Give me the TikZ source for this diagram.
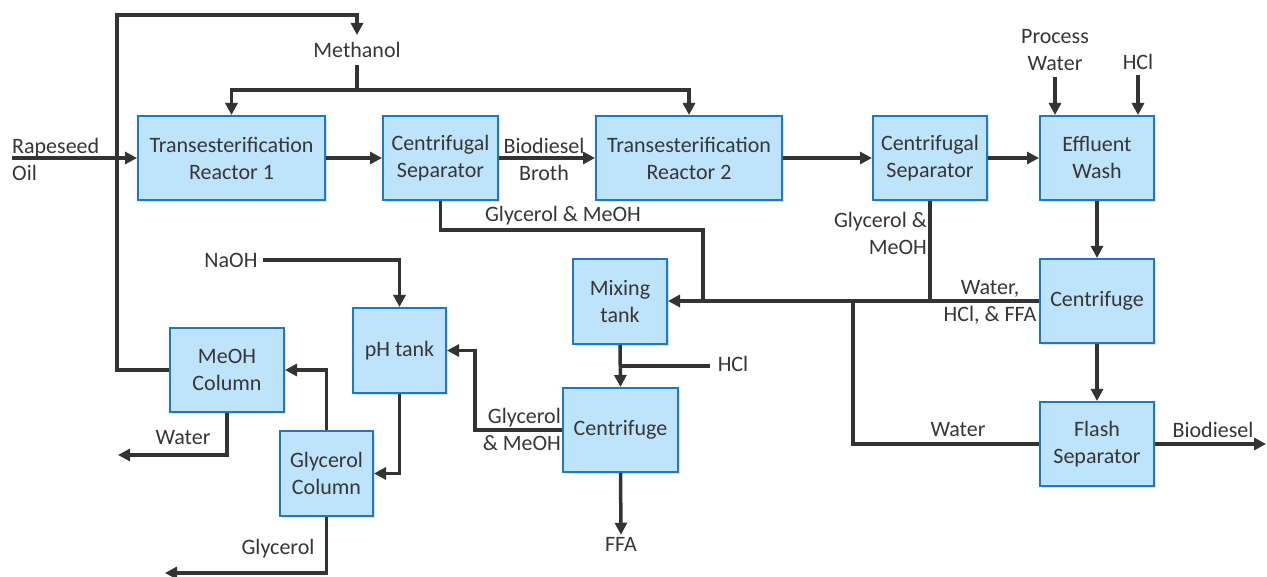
\documentclass[tikz,border=0pt]{standalone}
\usepackage{fontspec}
\setmainfont{Carlito}
\usetikzlibrary{arrows.meta,shadows}
\definecolor{boxfill}{HTML}{BEE4FC}
\definecolor{boxline}{HTML}{1F78C3}
\definecolor{flowc}{HTML}{333333}
\definecolor{txt}{HTML}{363636}
\tikzset{
  unit/.style={draw=boxline, fill=boxfill, line width=2pt, align=center, text=txt,
    font=\fontsize{22}{27}\selectfont, inner sep=0pt,
    drop shadow={opacity=0.25, shadow xshift=2pt, shadow yshift=-2pt}},
  lbl/.style={align=center, text=txt, font=\fontsize{22}{27}\selectfont, inner sep=2pt},
  pipe/.style={draw=flowc, line width=3.5pt},
  flow/.style={pipe, -{Triangle[length=12pt,width=12pt]}},
}
\begin{document}
\begin{tikzpicture}[x=1pt,y=-1pt]
\useasboundingbox (0,0) rectangle (1267,577);
% process units
\node[unit, minimum width=187, minimum height=84] (tr1) at (231.5,158) {Transesterification\\Reactor 1};
\node[unit, minimum width=115, minimum height=84] (cs1) at (440.5,158) {Centrifugal\\Separator};
\node[unit, minimum width=186, minimum height=84] (tr2) at (689,158) {Transesterification\\Reactor 2};
\node[unit, minimum width=114, minimum height=84] (cs2) at (930,158) {Centrifugal\\Separator};
\node[unit, minimum width=114, minimum height=84] (ew) at (1097,158) {Effluent\\Wash};
\node[unit, minimum width=114, minimum height=84] (cfr) at (1097,301) {Centrifuge};
\node[unit, minimum width=114, minimum height=84] (flash) at (1097,444) {Flash\\Separator};
\node[unit, minimum width=94, minimum height=85] (mix) at (620,301.5) {Mixing\\tank};
\node[unit, minimum width=115, minimum height=84] (cfm) at (620.5,430) {Centrifuge};
\node[unit, minimum width=93, minimum height=85] (ph) at (399.5,350.5) {pH tank};
\node[unit, minimum width=114, minimum height=84] (meoh) at (227,370) {MeOH\\Column};
\node[unit, minimum width=93, minimum height=85] (gc) at (326.5,473.5) {Glycerol\\Column};
% stream labels
\node[lbl, align=left, anchor=west] (rs) at (10,159) {Rapeseed\\Oil};
\node[lbl] (meth) at (357,50) {Methanol};
\node[lbl] (bb) at (544,159) {Biodiesel\\Broth};
\node[lbl] (pw) at (1055,50) {Process\\Water};
\node[lbl] (hcl1) at (1138,62) {HCl};
\node[lbl] (bdl) at (1213,430) {Biodiesel};
\node[lbl] (wh) at (990,302) {Water,\\HCl, \& FFA};
\node[lbl, align=right, anchor=east] (gm2) at (929,233) {Glycerol \&\\MeOH};
\node[lbl] (gm1) at (563,216) {Glycerol \& MeOH};
\node[lbl] (wat1) at (958,430) {Water};
\node[lbl] (hcl2) at (733,364) {HCl};
\node[lbl] (ffa) at (621,544) {FFA};
\node[lbl, align=right, anchor=east] (gm3) at (563,429) {Glycerol\\\& MeOH};
\node[lbl] (naoh) at (231,260) {NaOH};
\node[lbl] (wat2) at (183,438) {Water};
\node[lbl] (gly) at (278,549) {Glycerol};
% free ends and junctions
\coordinate (rsin) at (12,158);
\coordinate (r1) at (117,15);
\coordinate (r2) at (357,15);
\coordinate (methin) at (357,35);
\coordinate (methout) at (357,65);
\coordinate (mj) at (357,90);
\coordinate (pwin) at (1055,77);
\coordinate (hclin) at (1138,75);
\coordinate (bdout) at (1266,444);
\coordinate (c1a) at (703,230);
\coordinate (wj) at (853,302);
\coordinate (hclm) at (710,366);
\coordinate (g1) at (475,430);
\coordinate (naohin) at (263,260);
\coordinate (wout) at (118,455);
\coordinate (gout) at (165,573);
% connectors
\draw[flow] (rsin) -- (tr1.west);
\draw[flow] (meoh.west) -| (r1) -- (r2) -- (methin);
\draw[pipe] (methout) -- (mj);
\draw[flow] (mj) -| (tr1.north);
\draw[flow] (mj) -| (tr2.north);
\draw[flow] (tr1.east) -- (cs1.west);
\draw[flow] (cs1.east) -- (tr2.west);
\draw[flow] (tr2.east) -- (cs2.west);
\draw[flow] (cs2.east) -- (ew.west);
\draw[flow] (pwin) -- (pwin |- ew.north);
\draw[flow] (hclin) -- (hclin |- ew.north);
\draw[flow] (ew.south) -- (cfr.north);
\draw[flow] (cfr.south) -- (flash.north);
\draw[flow] (flash.east) -- (bdout);
\draw[flow] (cfr.west) -- (cfr.west -| mix.east);
\draw[pipe] (cs2.south) -- (cs2.south |- cfr.west);
\draw[pipe] (cs1.south) |- (c1a) -- (c1a |- cfr.west);
\draw[pipe] (wj) |- (flash.west);
\draw[flow] (mix.south) -- (cfm.north);
\draw[pipe] (hclm) -- (hclm -| mix.south);
\draw[flow] (cfm.south) -- (ffa.north);
\draw[flow] (cfm.west) -- (g1) |- (ph.east);
\draw[flow] (naohin) -| (ph.north);
\draw[flow] (ph.south) |- (gc.east);
\draw[flow] (gc.north) |- (meoh.east);
\draw[flow] (meoh.south) |- (wout);
\draw[flow] (gc.south) |- (gout);
\end{tikzpicture}
\end{document}
